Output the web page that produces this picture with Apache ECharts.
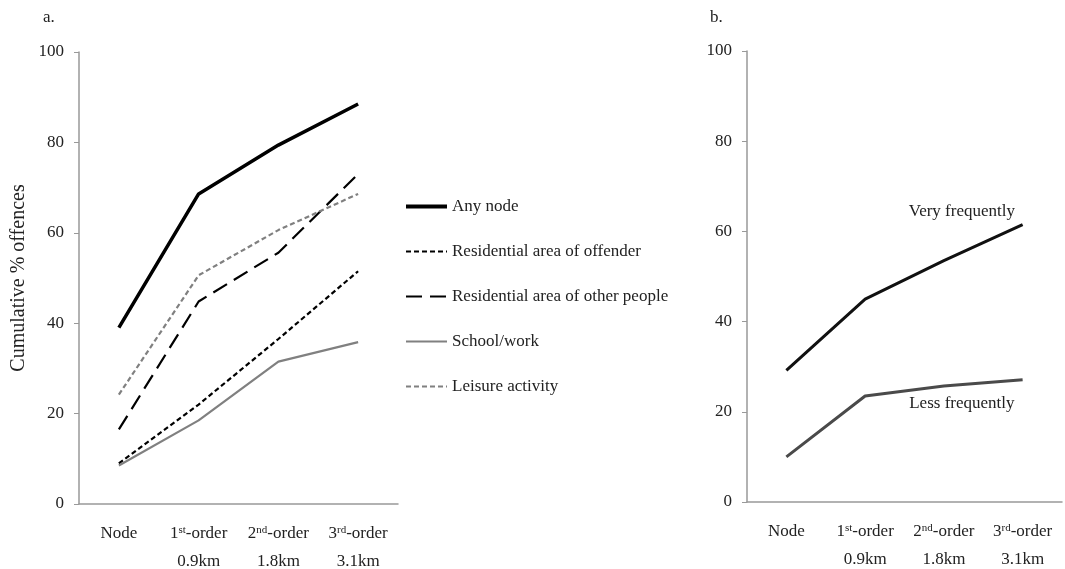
<!DOCTYPE html>
<html>
<head>
<meta charset="utf-8">
<script src="https://cdn.jsdelivr.net/npm/echarts@6/dist/echarts.min.js"></script>
<style>
  html, body { margin: 0; padding: 0; background: #fff; }
  #chart { width: 1065px; height: 569px; }
</style>
</head>
<body>
<div id="chart"></div>
<script>
// categories (rich-text keys for superscripts)
const categories = [
  "{a|Node}",
  "{a|1}{sup|st}{a|-order}\n{a|0.9km}",
  "{a|2}{sup|nd}{a|-order}\n{a|1.8km}",
  "{a|3}{sup|rd}{a|-order}\n{a|3.1km}"
];
const yTicks = [0, 20, 40, 60, 80, 100];

// panel a
const anyNode = [39, 68.6, 79.4, 88.5];
const resOffender = [9, 22, 36.5, 51.5];
const resOther = [16.5, 44.8, 55.6, 73];
const schoolWork = [8.5, 18.5, 31.5, 35.8];
const leisure = [24.2, 50.6, 60.6, 68.6];

// panel b
const veryFreq = [29.2, 45, 53.5, 61.5];
const lessFreq = [10, 23.5, 25.7, 27.1];

const font = "Liberation Serif";
const txt = "#222";
const axisGray = "#999";

const richLabel = {
  a: { fontFamily: font, fontSize: 17, color: txt, lineHeight: 28 },
  sup: { fontFamily: font, fontSize: 11, color: txt, lineHeight: 28, padding: [0, 0, 8, 0] }
};

function xAxisFor(idx) {
  return {
    type: "category",
    gridIndex: idx,
    data: categories,
    boundaryGap: true,
    axisLine: { lineStyle: { color: axisGray, width: 1.5 } },
    axisTick: { alignWithLabel: true, length: 4, lineStyle: { color: axisGray } },
    axisLabel: { interval: 0, margin: 16, rich: richLabel, formatter: v => v }
  };
}
function yAxisFor(idx, name) {
  return {
    type: "value",
    gridIndex: idx,
    min: 0, max: 100, interval: 20,
    name: name,
    nameLocation: "middle",
    nameGap: 50,
    nameTextStyle: { fontFamily: font, fontSize: 20, color: txt },
    splitLine: { show: false },
    axisLine: { show: true, lineStyle: { color: axisGray, width: 1.5 } },
    axisTick: { show: true, inside: false, length: 5, lineStyle: { color: axisGray } },
    axisLabel: { margin: 15, fontFamily: font, fontSize: 17, color: txt,
      formatter: v => yTicks.includes(v) ? String(v) : "" }
  };
}

function line(name, data, color, width, type, xi) {
  return {
    name: name, type: "line", data: data,
    xAxisIndex: xi, yAxisIndex: xi,
    symbol: "none", smooth: false,
    lineStyle: { color: color, width: width, type: type, cap: "butt" },
    itemStyle: { color: color },
    emphasis: { disabled: true }
  };
}

function labelled(name, data, color, labelIdx, pos, offset) {
  const s = line(name, data, color, 3, "solid", 1);
  s.symbol = "circle";
  s.symbolSize = 0;
  s.showSymbol = true;
  s.data = data.map((v, i) => i === labelIdx ? {
    value: v,
    label: { show: true, formatter: name, position: pos, offset: offset,
      fontFamily: font, fontSize: 17, color: txt }
  } : v);
  return s;
}

const chart = echarts.init(document.getElementById("chart"), null, { renderer: "canvas" });

chart.setOption({
  animation: false,
  backgroundColor: "#fff",
  textStyle: { fontFamily: font },
  title: [
    { text: "a.", left: 38, top: 4, textStyle: { fontFamily: font, fontSize: 17, fontWeight: "normal", color: txt } },
    { text: "b.", left: 705, top: 4, textStyle: { fontFamily: font, fontSize: 17, fontWeight: "normal", color: txt } }
  ],
  grid: [
    { left: 79, right: 667, top: 52, bottom: 65, outerBoundsMode: "none", containLabel: false },
    { left: 747, right: 3, top: 51, bottom: 67, outerBoundsMode: "none", containLabel: false }
  ],
  legend: {
    orient: "vertical",
    left: 404, top: 198, padding: 0,
    itemWidth: 41, itemHeight: 16, itemGap: 28,
    itemStyle: { opacity: 0 },
    data: [
      { name: "Any node", lineStyle: { width: 4 } },
      "Residential area of offender",
      "Residential area of other people",
      "School/work",
      "Leisure activity"
    ],
    textStyle: { fontFamily: font, fontSize: 17, color: txt }
  },
  xAxis: [xAxisFor(0), xAxisFor(1)],
  yAxis: [yAxisFor(0, "Cumulative % offences"), yAxisFor(1, "")],
  series: [
    line("Any node", anyNode, "#000", 3.5, "solid", 0),
    line("Residential area of offender", resOffender, "#000", 2.2, [5, 3], 0),
    line("Residential area of other people", resOther, "#000", 2.2, [16, 8], 0),
    line("School/work", schoolWork, "#808080", 2.2, "solid", 0),
    line("Leisure activity", leisure, "#808080", 2.2, [5, 3], 0),
    labelled("Very frequently", veryFreq, "#111", 2, "top", [18, -36]),
    labelled("Less frequently", lessFreq, "#4a4a4a", 2, "bottom", [18, 4])
  ]
});
</script>
</body>
</html>
